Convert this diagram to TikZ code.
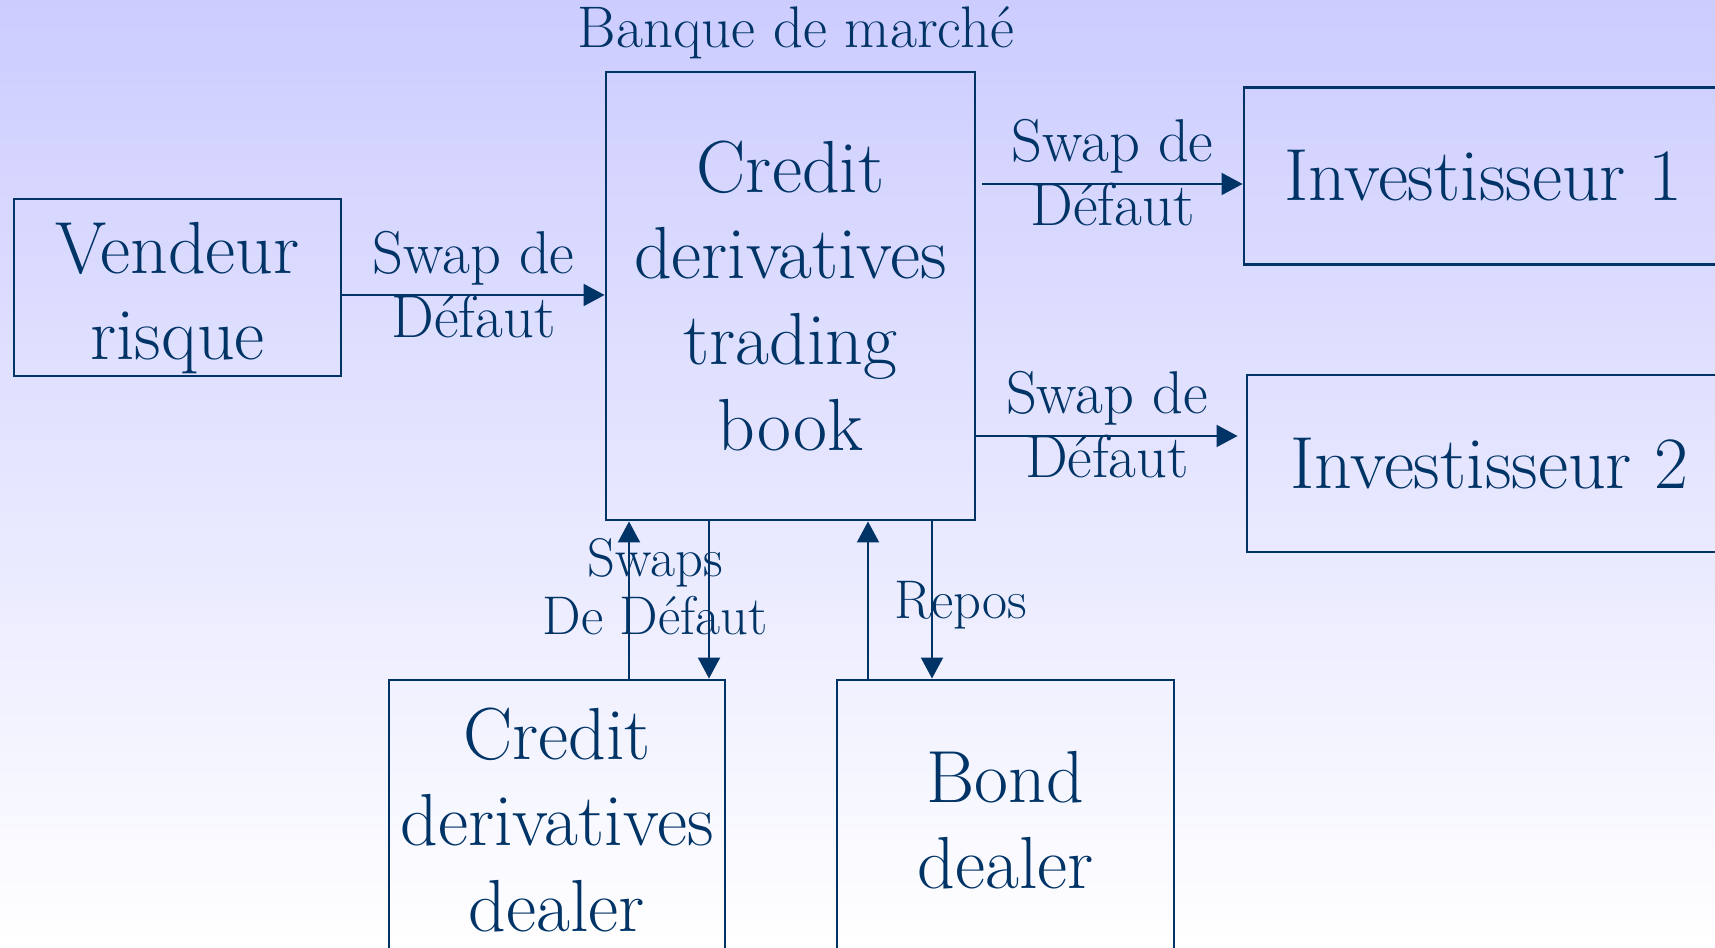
\documentclass[tikz,border=0pt]{standalone}
\usetikzlibrary{arrows.meta, positioning, calc}
\definecolor{navy}{RGB}{0, 51, 102}
\definecolor{lavender}{RGB}{204, 204, 255}

\begin{document}
\begin{tikzpicture}[
  box/.style={draw=navy, line width=0.8pt, text=navy, align=center, inner sep=0pt, font=\fontsize{21}{24.5}\selectfont},
  lbl/.style={text=navy, align=center, inner sep=0pt, font=\fontsize{17.2}{18}\selectfont},
  small/.style={text=navy, align=center, inner sep=0pt, font=\fontsize{15.5}{16.5}\selectfont},
  flow/.style={draw=navy, line width=0.8pt, -{Triangle[length=6pt, width=6.2pt]}}
]
  % Background
  \clip (0, 0) rectangle (17.15, -9.48);
  \shade[top color=lavender, bottom color=white] (0, 0) rectangle (17.15, -9.48);

  % Bank
  \node[lbl, font=\fontsize{16.7}{18}\selectfont] (bank) at (7.96, -0.33) {Banque de march\'e};
  \node[box, minimum width=3.69cm, minimum height=4.48cm] (book) at (7.905, -2.96) {Credit\\derivatives\\trading\\book};

  % Seller and investors
  \node[box, minimum width=3.27cm, minimum height=1.77cm] (vendeur) at (1.775, -2.875) {\rule{0pt}{20.5pt}Vendeur\\risque};
  \node[box, minimum width=4.78cm, minimum height=1.775cm] (inv1) at (14.83, -1.76) {Investisseur 1};
  \node[box, minimum width=4.84cm, minimum height=1.77cm] (inv2) at (14.89, -4.635) {Investisseur 2};

  % Dealers
  \node[box, minimum width=3.36cm, minimum height=2.8cm] (cdd) at (5.57, -8.2) {Credit\\derivatives\\dealer};
  \node[box, minimum width=3.37cm, minimum height=2.8cm] (bond) at (10.055, -8.2) {Bond\\dealer};

  % Swaps
  \draw[flow] ($(vendeur.east)+(0,-0.075)$) -- ($(vendeur.east -| book.west)+(0,-0.075)$)
    node[lbl, midway, above=-0.44cm] (cdsa) {Swap de\\D\'efaut};
  \draw[flow] ($(inv1.west -| book.east)+(0.06,-0.08)$) -- ($(inv1.west)+(0,-0.08)$)
    node[lbl, midway, above=-0.43cm] (cdsb) {Swap de\\D\'efaut};
  \draw[flow] ($(inv2.west -| book.east)+(0,0.275)$) -- ($(inv2.west)+(-0.08,0.275)$)
    node[lbl, midway, above=-0.43cm] (cdsc) {Swap de\\D\'efaut};

  % Dealers flows
  \draw[flow] ([xshift=7.2mm]cdd.north) -- ([xshift=7.2mm]cdd.north |- book.south);
  \draw[flow] ([xshift=15.2mm]cdd.north |- book.south) -- ([xshift=15.2mm]cdd.north);
  \draw[flow] ([xshift=-13.75mm]bond.north) -- ([xshift=-13.75mm]bond.north |- book.south);
  \draw[flow] ([xshift=-7.35mm]bond.north |- book.south) -- ([xshift=-7.35mm]bond.north);
  \node[small] (swaps) at (6.55, -5.87) {Swaps\\De D\'efaut};
  \node[small] (repos) at (9.61, -6.05) {Repos};
\end{tikzpicture}
\end{document}
